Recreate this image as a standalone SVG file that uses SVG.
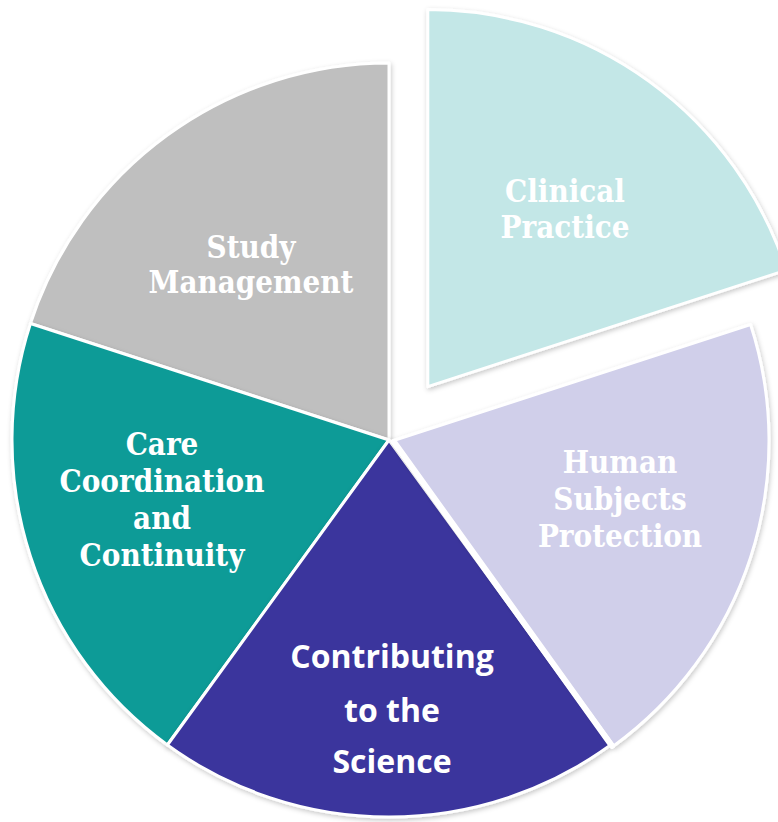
<svg xmlns="http://www.w3.org/2000/svg" width="778" height="822" viewBox="0 0 778 822">
<style>
.slice{stroke:#ffffff;stroke-width:3;stroke-linejoin:round;filter:url(#sh)}
.lbl{fill:#ffffff;font-family:"DejaVu Serif","Liberation Serif",serif;font-weight:bold;font-stretch:condensed;font-size:31px;text-anchor:middle}
.lbl2{fill:#ffffff;font-family:"Open Sans","Liberation Sans",sans-serif;font-weight:bold;font-size:32px;text-anchor:middle}
</style>
<defs>
<filter id="sh" x="-10%" y="-10%" width="120%" height="120%">
<feDropShadow dx="1" dy="2" stdDeviation="2.5" flood-color="#000000" flood-opacity="0.22"/>
</filter>
</defs>
<rect width="778" height="822" fill="#ffffff"/>
<g id="study-management">
<path class="slice" d="M389 440 L30.45 323.5 A377 377 0 0 1 389 63 Z" fill="#bfbfbf"/>
<text class="lbl" x="251" y="258">Study</text>
<text class="lbl" x="251" y="293">Management</text>
</g>
<g id="care-coordination">
<path class="slice" d="M389 440 L167.4 745 A377 377 0 0 1 30.45 323.5 Z" fill="#0f9b97" stroke="#6fd6d6"/>
<text class="lbl" x="162" y="455">Care</text>
<text class="lbl" x="162" y="492">Coordination</text>
<text class="lbl" x="162" y="529">and</text>
<text class="lbl" x="162" y="566">Continuity</text>
</g>
<g id="contributing">
<path class="slice" d="M389 440 L610.6 745 A377 377 0 0 1 167.4 745 Z" fill="#3b369d"/>
<text class="lbl2" x="392" y="668">Contributing</text>
<text class="lbl2" x="392" y="722">to the</text>
<text class="lbl2" x="392" y="773">Science</text>
</g>
<g id="human-subjects">
<path class="slice" d="M392 441 L750.55 324.5 A377 377 0 0 1 613.6 746 Z" fill="#d0cfea" stroke-width="4"/>
<line x1="394" y1="442" x2="612" y2="746" stroke="#ffffff" stroke-width="6" stroke-linecap="round"/>
<text class="lbl" x="620" y="473">Human</text>
<text class="lbl" x="620" y="510">Subjects</text>
<text class="lbl" x="620" y="547">Protection</text>
</g>
<g id="clinical-practice">
<path class="slice" d="M427.8 386.6 L427.8 9.6 A377 377 0 0 1 786.35 270.1 Z" fill="#c3e7e7"/>
<text class="lbl" x="565" y="202">Clinical</text>
<text class="lbl" x="565" y="238">Practice</text>
</g>
<g id="connectors"></g>
</svg>
